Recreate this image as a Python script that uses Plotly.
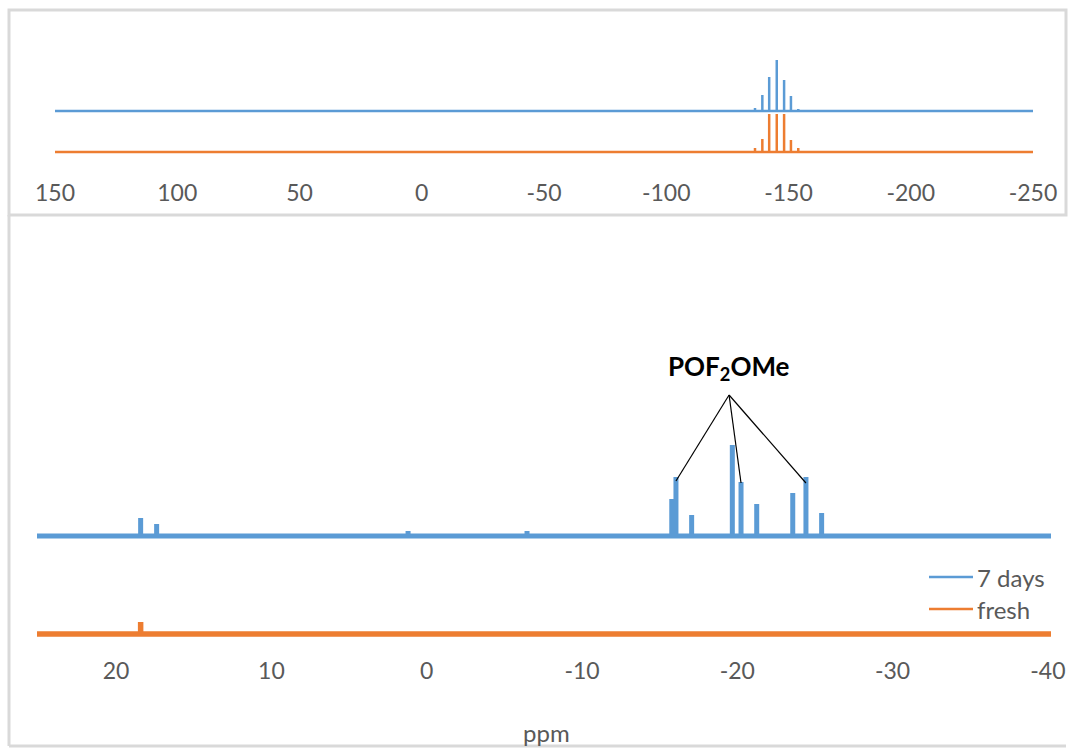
import plotly.graph_objects as go

W, H = 1076, 748

# ---------------- data ----------------
# Inset (wide range) : PF6- septet
top_ppm = [-136.3, -139.3, -142.1, -145.2, -148.2, -151.0, -154.0]
top_7days = [3, 16, 34, 51, 31, 15, 2]
top_fresh = [4, 13, 38, 38, 38, 12, 4]
top_range = [150, -250]
top_ticks = [150, 100, 50, 0, -50, -100, -150, -200, -250]
top_offset = 41          # vertical offset of "7 days" trace

# Main panel (narrow range)
bot_7days_ppm = [18.42, 17.39, 1.2, -6.46, -15.78, -16.05, -17.06, -19.68,
                 -20.24, -21.25, -23.57, -24.42, -25.43]
bot_7days_h = [18, 12, 5, 5, 37, 59, 21, 91, 54, 32, 43, 59, 23]
bot_fresh_ppm = [18.42]
bot_fresh_h = [12]
bot_range = [25.1, -40.2]
bot_ticks = [20, 10, 0, -10, -20, -30, -40]
bot_offset = 98

# POF2OMe triplet members pointed at by the label
pof_ppm = [-16.05, -20.24, -24.42]
pof_h = [55, 53, 53]
pof_label_ppm = -19.47
pof_label_h = 141

series_names = ["7 days", "fresh"]
BLUE = "#5B9BD5"
ORANGE = "#ED7D31"
GRAY_TXT = "#595959"
FONT = "Lato"


def stick(xr, ppm, h, off):
    xs, ys = [xr[0]], [off]
    for p, v in sorted(zip(ppm, h), key=lambda t: -t[0]):
        xs += [p, p, p]
        ys += [off, off + v, off]
    xs.append(xr[1])
    ys.append(off)
    return xs, ys


def px(x):
    return x / W


def py(y):
    return 1 - y / H


fig = go.Figure()

# top inset
x, y = stick(top_range, top_ppm, top_7days, top_offset)
fig.add_trace(go.Scatter(x=x, y=y, mode="lines", line=dict(color=BLUE, width=2.5),
                         xaxis="x", yaxis="y", showlegend=False, name=series_names[0]))
x, y = stick(top_range, top_ppm, top_fresh, 0)
fig.add_trace(go.Scatter(x=x, y=y, mode="lines", line=dict(color=ORANGE, width=2.5),
                         xaxis="x", yaxis="y", showlegend=False, name=series_names[1]))

# main panel
x, y = stick(bot_range, bot_7days_ppm, bot_7days_h, bot_offset)
fig.add_trace(go.Scatter(x=x, y=y, mode="lines", line=dict(color=BLUE, width=5),
                         xaxis="x2", yaxis="y2", showlegend=False, name=series_names[0]))
x, y = stick(bot_range, bot_fresh_ppm, bot_fresh_h, 0)
fig.add_trace(go.Scatter(x=x, y=y, mode="lines", line=dict(color=ORANGE, width=5.5),
                         xaxis="x2", yaxis="y2", showlegend=False, name=series_names[1]))

shapes = []
annotations = []

# leader lines from the label to the triplet peaks
for p, v in zip(pof_ppm, pof_h):
    shapes.append(dict(type="line", xref="x2", yref="y2",
                       x0=pof_label_ppm, y0=bot_offset + pof_label_h,
                       x1=p, y1=bot_offset + v,
                       line=dict(color="#000000", width=1.2)))
annotations.append(dict(x=pof_label_ppm, y=bot_offset + pof_label_h + 8, xref="x2", yref="y2",
                        text="<b>POF<sub>2</sub>OMe</b>", showarrow=False,
                        yanchor="bottom", xanchor="center",
                        font=dict(family=FONT, size=26, color="#000000")))

# manual legend
leg_y = [577, 609]
leg_col = [BLUE, ORANGE]
for name, yy, c in zip(series_names, leg_y, leg_col):
    shapes.append(dict(type="line", xref="paper", yref="paper",
                       x0=px(929), x1=px(973), y0=py(yy), y1=py(yy),
                       line=dict(color=c, width=2.5)))
    annotations.append(dict(x=px(975), y=py(yy), xref="paper", yref="paper",
                            text=name, showarrow=False, xanchor="left", yanchor="middle",
                            font=dict(family=FONT, size=24, color=GRAY_TXT)))

annotations.append(dict(x=px(546), y=py(732), xref="paper", yref="paper",
                        text="ppm", showarrow=False, xanchor="center", yanchor="middle",
                        font=dict(family=FONT, size=24, color=GRAY_TXT)))

# frames
frame = dict(color="#D9D9D9", width=3)
shapes.append(dict(type="rect", xref="paper", yref="paper",
                   x0=px(9), x1=px(1066), y0=py(215), y1=py(10), line=frame))
shapes.append(dict(type="line", xref="paper", yref="paper",
                   x0=px(9), x1=px(9), y0=py(215), y1=py(746), line=frame))
shapes.append(dict(type="line", xref="paper", yref="paper",
                   x0=px(9), x1=px(1066), y0=py(746), y1=py(746), line=frame))

tickfont = dict(family=FONT, size=23, color=GRAY_TXT)

# top axis pixel mapping: 150 -> 55 px, -250 -> 1033 px
t_pad = 1
t_scale = (1033 - 55) / 400
top_dom = [px(55 - t_pad * t_scale), px(1033 + t_pad * t_scale)]
# bottom axis mapping: 0 -> 426.7 px, 15.53 px / ppm
b_x0 = 426.7 - bot_range[0] * 15.53
b_x1 = 426.7 - bot_range[1] * 15.53

fig.update_layout(
    width=W, height=H, margin=dict(l=0, r=0, t=0, b=0, autoexpand=False),
    paper_bgcolor="white", plot_bgcolor="rgba(0,0,0,0)",
    xaxis=dict(domain=top_dom, range=[top_range[0] + t_pad, top_range[1] - t_pad],
               tickvals=top_ticks, ticktext=[str(t) for t in top_ticks],
               showgrid=False, zeroline=False, showline=False, ticks="",
               tickfont=tickfont, anchor="y", automargin=False),
    yaxis=dict(domain=[py(177), py(40)], range=[-25, 112], visible=False,
               anchor="x", automargin=False),
    xaxis2=dict(domain=[px(b_x0), px(b_x1)], range=bot_range,
                tickvals=bot_ticks, ticktext=[str(t) for t in bot_ticks],
                showgrid=False, zeroline=False, showline=False, ticks="",
                tickfont=tickfont, anchor="y2", automargin=False),
    yaxis2=dict(domain=[py(655), py(230)], range=[-21, 404], visible=False,
                anchor="x2", automargin=False),
    annotations=annotations, shapes=shapes,
)

fig.write_html("out.html")
